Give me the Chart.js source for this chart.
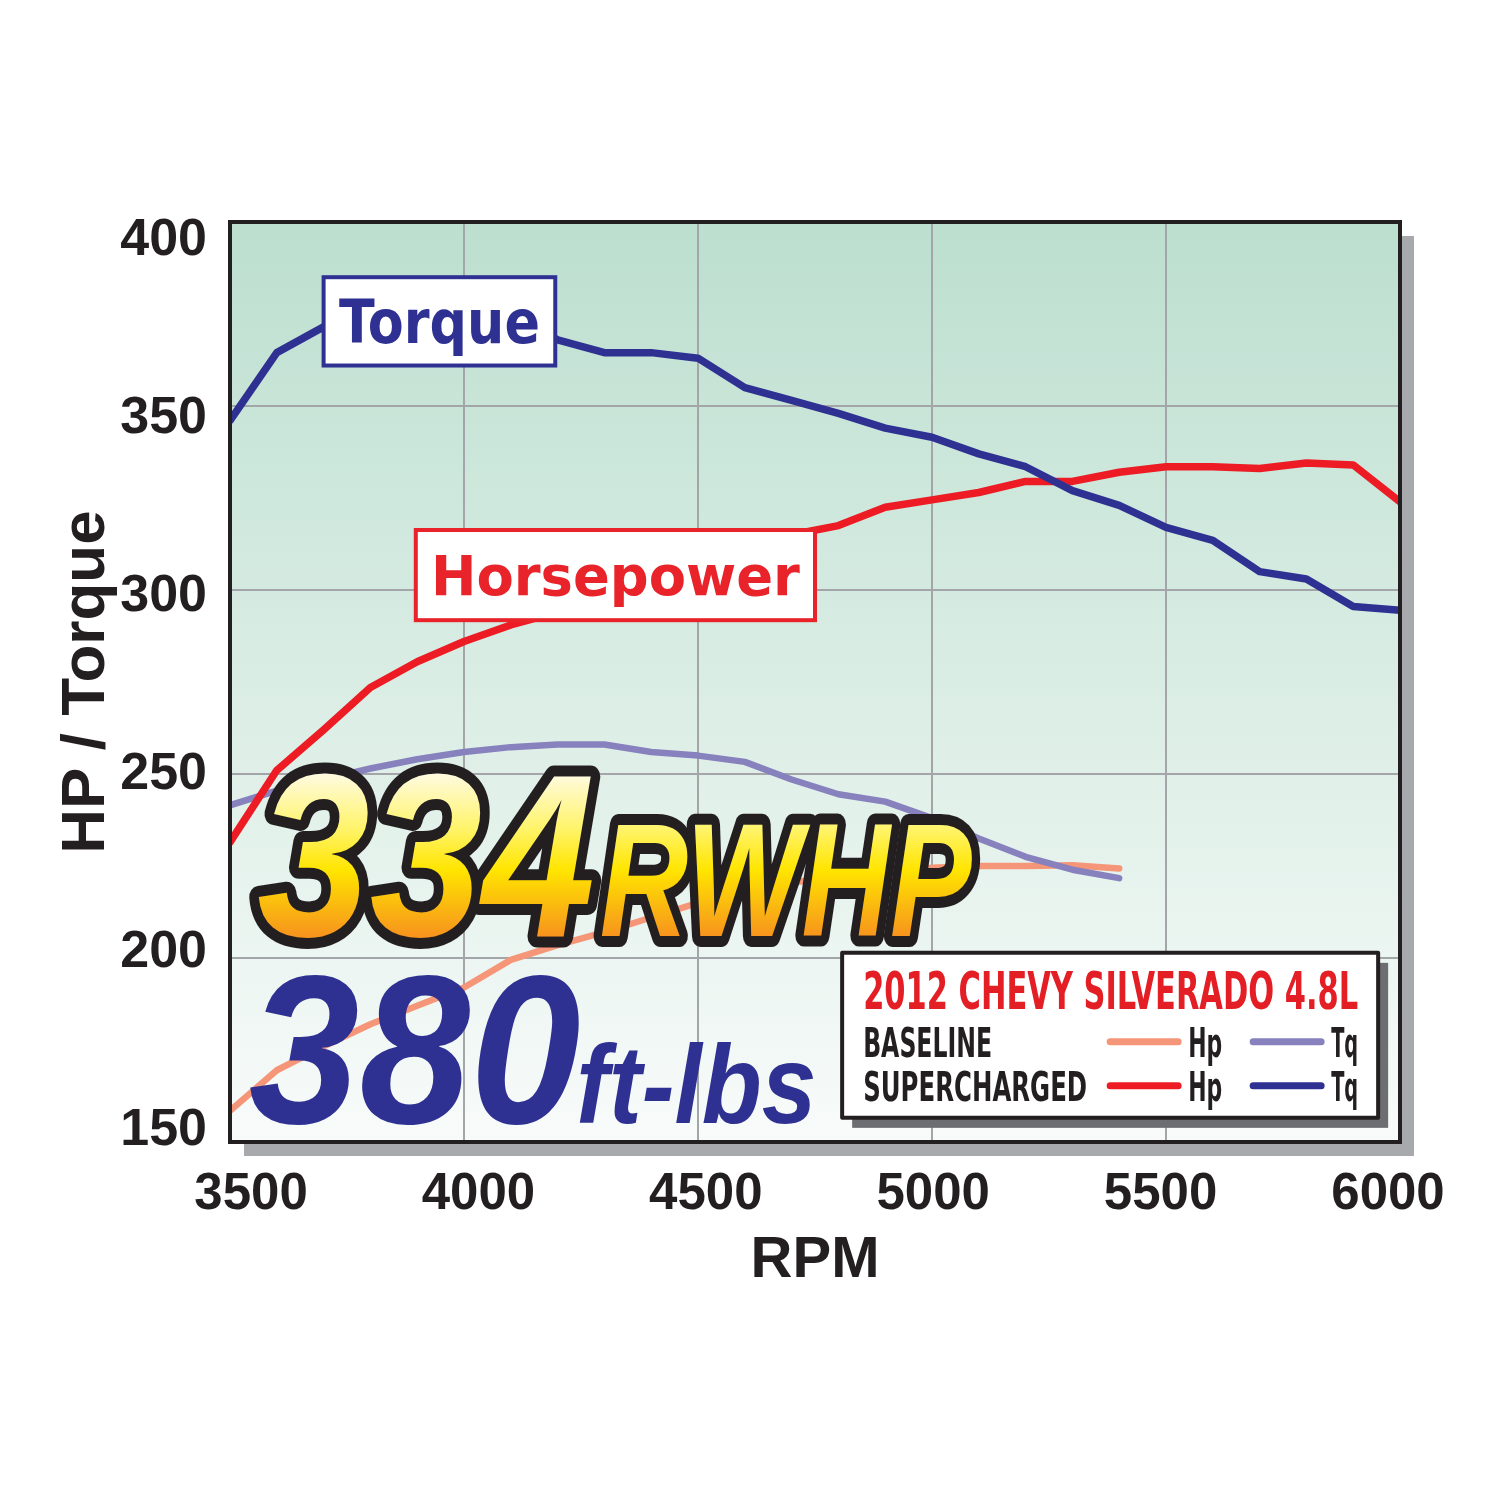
<!DOCTYPE html>
<html>
<head>
<meta charset="utf-8">
<title>2012 Chevy Silverado 4.8L dyno</title>
<script src="https://cdn.jsdelivr.net/npm/chart.js@4.4.1/dist/chart.umd.min.js"></script>
<style>
    body { margin: 0; background: #fff; }
    canvas { display: block; }
</style>
</head>
<body>
<canvas id="chart" width="1500" height="1500"></canvas>
<script>
const rpm = [3500, 3600, 3700, 3800, 3900, 4000, 4100, 4200, 4300, 4400, 4500, 4600, 4700,
    4800, 4900, 5000, 5100, 5200, 5300, 5400, 5500, 5600, 5700, 5800, 5900, 6000];

// baseline runs stop at 5400 rpm
const baselineHp = [158.5, 169.5, 176, 182, 187, 192, 199.5, 203.5, 207, 211, 215, 218, 220.5,
    222, 223.5, 224.5, 225, 225, 225.2, 224.3];
const baselineTq = [241.5, 245.5, 248.5, 251.5, 254, 256, 257.3, 258, 258, 256, 255, 253.3, 248.5,
    244.5, 242.5, 238, 232.5, 227.5, 224, 221.7];
const superHp = [231.5, 251, 262, 273.5, 280.5, 286, 290.5, 294, 298, 302, 306, 311, 315,
    317.5, 322.5, 324.5, 326.5, 329.5, 329.5, 332, 333.5, 333.5, 333, 334.5, 334, 324];
const superTq = [346, 364.5, 371.5, 375, 378, 380, 375, 368, 364.5, 364.5, 363, 355, 351.5,
    348, 344, 341.5, 337, 333.5, 327, 323, 317, 313.5, 305, 303, 295.5, 294.5];

const rpmTicks = [3500, 4000, 4500, 5000, 5500, 6000];
const valueTicks = [150, 200, 250, 300, 350, 400];

const legendTitle = "2012 CHEVY SILVERADO 4.8L";
const legendRows = ["BASELINE", "SUPERCHARGED"];
const legendCols = ["Hp", "Tq"];

const peakHp = ["334", "RWHP"];
const peakTq = ["380", "ft-lbs"];

const INK = "#231f20";
const NARROW = '"Liberation Sans Narrow", "DejaVu Sans Condensed", sans-serif';
const SANS = '"Liberation Sans", Arial, sans-serif';

function points(values) {
    return values.map((v, i) => ({ x: rpm[i], y: v }));
}

function line(label, values, color, width) {
    return {
        label: label,
        data: points(values),
        borderColor: color,
        borderWidth: width,
        pointRadius: 0,
        tension: 0,
        borderCapStyle: "round",
        borderJoinStyle: "round",
        fill: false,
    };
}

const backdrop = {
    id: "backdrop",
    beforeDraw(chart) {
        let { ctx, chartArea: a } = chart;
        ctx.save();
        ctx.fillStyle = "#a7a9ac";
        ctx.fillRect(a.left + 14, a.top + 14, a.width, a.height);
        let g = ctx.createLinearGradient(0, a.top, 0, a.bottom);
        g.addColorStop(0, "#bcdfcf");
        g.addColorStop(1, "#f8fbfa");
        ctx.fillStyle = g;
        ctx.fillRect(a.left, a.top, a.width, a.height);
        ctx.restore();
    },
};

const overlay = {
    id: "overlay",
    afterDatasetsDraw(chart) {
        let { ctx, chartArea: a, scales } = chart;
        let px = (v) => scales.x.getPixelForValue(v);
        let py = (v) => scales.y.getPixelForValue(v);

        ctx.save();
        ctx.lineWidth = 4;
        ctx.strokeStyle = INK;
        ctx.strokeRect(a.left, a.top, a.width, a.height);

        // callout boxes
        [
            { text: "Torque", color: "#2e3192", x1: 3700, x2: 4195, y1: 385, y2: 361, size: 60, w: 201 },
            { text: "Horsepower", color: "#e8232a", x1: 3897, x2: 4750, y1: 316.3, y2: 291.8, size: 55, w: 369 },
        ].forEach((b) => {
            let l = px(b.x1), r = px(b.x2), t = py(b.y1), btm = py(b.y2);
            ctx.fillStyle = "#fff";
            ctx.fillRect(l, t, r - l, btm - t);
            ctx.lineWidth = 4;
            ctx.strokeStyle = b.color;
            ctx.strokeRect(l, t, r - l, btm - t);
            ctx.font = `bold ${b.size}px "DejaVu Sans", sans-serif`;
            ctx.fillStyle = b.color;
            ctx.textAlign = "center";
            ctx.textBaseline = "alphabetic";
            ctx.fillText(b.text, (l + r) / 2, (t + btm) / 2 + b.size * 0.365, b.w);
        });

        // big peak numbers
        ctx.textAlign = "left";
        let hpBase = py(206);
        let yellow = ctx.createLinearGradient(0, hpBase - 165, 0, hpBase);
        yellow.addColorStop(0, "#fffbe6");
        yellow.addColorStop(0.35, "#fff46a");
        yellow.addColorStop(0.6, "#ffe500");
        yellow.addColorStop(1, "#f7941d");
        let hpParts = [
            { text: peakHp[0], x: px(3558), size: 232, w: 338 },
            { text: peakHp[1], x: px(4290), size: 162, w: 372 },
        ];
        ctx.lineJoin = "round";
        ctx.lineWidth = 22;
        ctx.strokeStyle = INK;
        hpParts.forEach((p) => {
            ctx.font = `italic bold ${p.size}px ${SANS}`;
            ctx.strokeText(p.text, p.x, hpBase, p.w);
        });
        ctx.fillStyle = yellow;
        hpParts.forEach((p) => {
            ctx.font = `italic bold ${p.size}px ${SANS}`;
            ctx.fillText(p.text, p.x, hpBase, p.w);
        });

        let tqBase = py(155.2);
        ctx.fillStyle = "#2e3192";
        ctx.font = `italic bold 212px ${SANS}`;
        ctx.fillText(peakTq[0], px(3540), tqBase, 332);
        ctx.font = `italic bold 112px ${SANS}`;
        ctx.fillText(peakTq[1], px(4240), tqBase, 240);

        // legend box
        let lx = px(4808), ly = py(201.4);
        let lw = 536, lh = 165;
        ctx.fillStyle = "#6d6e71";
        ctx.fillRect(lx + 10, ly + 10, lw, lh);
        ctx.fillStyle = "#fff";
        ctx.fillRect(lx, ly, lw, lh);
        ctx.lineWidth = 4;
        ctx.strokeStyle = INK;
        ctx.strokeRect(lx, ly, lw, lh);

        ctx.fillStyle = "#e31e25";
        ctx.font = `bold 52px ${NARROW}`;
        ctx.fillText(legendTitle, lx + 21, ly + 56, 495);

        let rowWidths = [129, 224];
        let colX = [268, 411];
        let colW = [34, 27];
        legendRows.forEach((row, r) => {
            let base = ly + 104 + r * 44;
            ctx.fillStyle = INK;
            ctx.font = `bold 41px ${NARROW}`;
            ctx.fillText(row, lx + 21, base, rowWidths[r]);
            legendCols.forEach((col, c) => {
                let ds = chart.data.datasets.find((d) => d.label === row + " " + col);
                ctx.strokeStyle = ds.borderColor;
                ctx.lineWidth = 7;
                ctx.lineCap = "round";
                ctx.beginPath();
                ctx.moveTo(lx + colX[c], base - 15);
                ctx.lineTo(lx + colX[c] + 68, base - 15);
                ctx.stroke();
                ctx.fillStyle = INK;
                ctx.fillText(col, lx + colX[c] + 78, base, colW[c]);
            });
        });
        ctx.restore();
    },
};

const gridStyle = { color: "#a3a5a8", lineWidth: 2, drawTicks: false };

new Chart(document.getElementById("chart"), {
    type: "line",
    data: {
        datasets: [
            line("SUPERCHARGED Tq", superTq, "#2e3192", 7.5),
            line("SUPERCHARGED Hp", superHp, "#ed1c24", 7.5),
            line("BASELINE Tq", baselineTq, "#8781bd", 6.5),
            line("BASELINE Hp", baselineHp, "#f69679", 6.5),
        ],
    },
    options: {
        responsive: false,
        animation: false,
        layout: { padding: { left: 0, top: 222, right: 100, bottom: 204 } },
        plugins: {
            legend: { display: false },
            tooltip: { enabled: false },
        },
        scales: {
            x: {
                type: "linear",
                min: 3500,
                max: 6000,
                ticks: { display: false, stepSize: 500 },
                grid: gridStyle,
                border: { display: false },
                afterFit: (s) => { s.height = 0; },
            },
            y: {
                type: "linear",
                min: 150,
                max: 400,
                ticks: { display: false, stepSize: 50 },
                grid: gridStyle,
                border: { display: false },
                afterFit: (s) => { s.width = 0; },
            },
            // label axes: the printed tick labels sit slightly inside the grid
            xl: {
                type: "linear",
                position: "bottom",
                min: 3453.8,
                max: 6026.4,
                bounds: "data",
                afterBuildTicks: (s) => { s.ticks = rpmTicks.map((v) => ({ value: v })); },
                grid: { display: false, drawTicks: false },
                border: { display: false },
                ticks: {
                    autoSkip: false,
                    maxRotation: 0,
                    padding: 22,
                    color: INK,
                    font: { family: SANS, size: 51, weight: "bold" },
                    callback: (v) => String(v),
                },
                title: {
                    display: true,
                    text: "RPM",
                    color: INK,
                    padding: 0,
                    font: { family: SANS, size: 58, weight: "bold" },
                },
                afterFit: (s) => { s.height = 154; },
            },
            yl: {
                type: "linear",
                position: "left",
                min: 146.9,
                max: 405.3,
                bounds: "data",
                afterBuildTicks: (s) => { s.ticks = valueTicks.map((v) => ({ value: v })); },
                grid: { display: false, drawTicks: false },
                border: { display: false },
                ticks: {
                    autoSkip: false,
                    padding: 23,
                    color: INK,
                    font: { family: SANS, size: 52, weight: "bold" },
                    callback: (v) => String(v),
                },
                title: {
                    display: true,
                    text: "HP / Torque",
                    color: INK,
                    padding: { top: 50, bottom: 0 },
                    font: { family: SANS, size: 62, weight: "bold" },
                },
                afterFit: (s) => { s.width = 230; },
            },
        },
    },
    plugins: [backdrop, overlay],
});
</script>
</body>
</html>
